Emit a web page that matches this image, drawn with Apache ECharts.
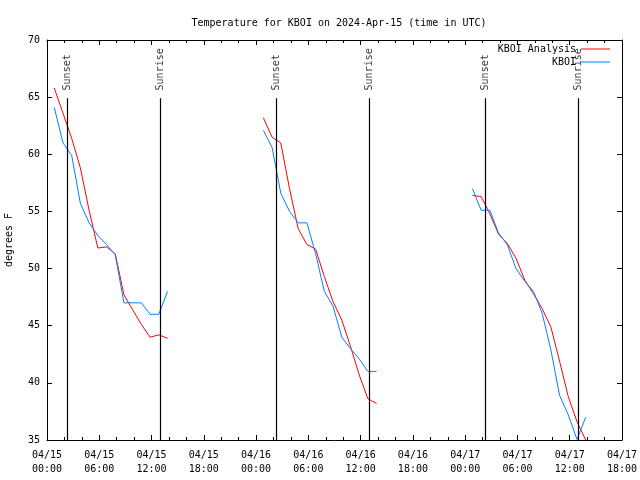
<!DOCTYPE html>
<html><head><meta charset="utf-8">
<script src="https://cdn.jsdelivr.net/npm/echarts@6/dist/echarts.min.js"></script>
<style>html,body{margin:0;padding:0;background:#fff}#c{width:640px;height:480px}</style>
</head><body><div id="c"></div>
<script>
// ---- data ----
const days = ['2024-04-15', '2024-04-16', '2024-04-17'];
const obsTimes = ['00:50','01:50','02:50','03:50','04:50','05:50','06:50','07:50','08:50','09:50','10:50','11:50','12:50','13:50'];
const analysisDay1 = [65.8, 63.6, 61.4, 58.8, 55.1, 51.8, 51.9, 51.3, 47.7, 46.4, 45.1, 44.0, 44.2, 43.9];
const analysisDay2 = [63.2, 61.5, 61.0, 57.0, 53.5, 52.1, 51.7, 49.3, 47.1, 45.5, 43.2, 40.7, 38.6, 38.2];
const analysisDay3 = [56.4, 56.3, 54.8, 53.0, 52.2, 50.9, 49.0, 47.8, 46.5, 44.9, 41.9, 38.8, 36.6, 35.0];
const obsDay1 = [64.1, 61.0, 59.9, 55.7, 54.0, 52.9, 52.1, 51.2, 47.0, 47.0, 47.0, 46.0, 46.0, 48.0];
const obsDay2 = [62.1, 60.6, 56.6, 55.0, 54.0, 54.0, 51.3, 48.0, 46.7, 44.0, 43.0, 42.1, 41.0, 41.0];
const obsDay3 = [57.0, 55.1, 55.1, 53.1, 52.1, 50.0, 48.9, 48.0, 46.1, 42.9, 38.9, 37.2, 35.05, 37.0];
const eventTimes = ['2024-04-15T02:21Z','2024-04-15T13:01Z','2024-04-16T02:21Z','2024-04-16T13:01Z','2024-04-17T02:21Z','2024-04-17T13:01Z'];
const eventNames = ['Sunset','Sunrise','Sunset','Sunrise','Sunset','Sunrise'];
const titleText = 'Temperature for KBOI on 2024-Apr-15 (time in UTC)';
const seriesNames = ['KBOI Analysis', 'KBOI'];
const yName = 'degrees F';

// ---- build ----
const HOUR = 3600000;
const xMin = Date.UTC(2024, 3, 15, 0, 0);
const xMax = Date.UTC(2024, 3, 17, 18, 0);
function ts(day, hm) { return Date.parse(day + 'T' + hm + ':00Z'); }
function build(dayVals) {
  const out = [];
  dayVals.forEach((vals, d) => {
    vals.forEach((v, i) => out.push([ts(days[d], obsTimes[i]), v]));
    out.push([ts(days[d], obsTimes[obsTimes.length - 1]) + HOUR, '-']);
  });
  return out;
}
const analysisData = build([analysisDay1, analysisDay2, analysisDay3]);
const obsData = build([obsDay1, obsDay2, obsDay3]);
const eventX = eventTimes.map(t => Date.parse(t));

const FONT = 'DejaVu Sans Mono';
const pad = n => (n < 10 ? '0' : '') + n;
const fmtX = v => { const d = new Date(v); return pad(d.getUTCMonth() + 1) + '/' + pad(d.getUTCDate()) + '\n' + pad(d.getUTCHours()) + ':' + pad(d.getUTCMinutes()); };

const axisLine = { show: true, lineStyle: { color: '#000', width: 1 } };
const xCommon = {
  type: 'value', min: xMin, max: xMax, interval: 6 * HOUR,
  axisLine: axisLine, splitLine: { show: false },
  axisTick: { show: true, inside: true, length: 5, lineStyle: { color: '#000' } },
  minorTick: { show: true, splitNumber: 3, length: 3, lineStyle: { color: '#000' } }
};
const yCommon = {
  type: 'value', min: 35, max: 70, interval: 5,
  axisLine: axisLine, splitLine: { show: false },
  axisTick: { show: true, inside: true, length: 5, lineStyle: { color: '#000' } }
};

const chart = echarts.init(document.getElementById('c'), null, { renderer: 'canvas' });
const legendBase = {
  orient: 'vertical', align: 'right', right: 30, padding: 0, icon: 'rect',
  itemWidth: 29, itemHeight: 1, itemGap: 0, selectedMode: false,
  textStyle: { fontFamily: FONT, fontSize: 10, color: '#000' }
};
chart.setOption({
  animation: false,
  backgroundColor: '#fff',
  title: { text: titleText, left: 334, textAlign: 'center', top: 13,
    textStyle: { fontFamily: FONT, fontSize: 10, fontWeight: 'normal', color: '#000' } },
  legend: [
    Object.assign({}, legendBase, { data: [seriesNames[0]], top: 44 }),
    Object.assign({}, legendBase, { data: [seriesNames[1]], top: 57 })
  ],
  grid: { left: 47, right: 18, top: 40, bottom: 40, containLabel: false, outerBoundsMode: 'none' },
  xAxis: [
    Object.assign({}, xCommon, { position: 'bottom',
      axisLabel: { show: true, formatter: fmtX, fontFamily: FONT, fontSize: 10, color: '#000', margin: 8, lineHeight: 14 } }),
    Object.assign({}, xCommon, { position: 'top', axisLabel: { show: false } })
  ],
  yAxis: [
    Object.assign({}, yCommon, { position: 'left', name: yName, nameLocation: 'middle', nameGap: 33, nameRotate: 90,
      nameTextStyle: { fontFamily: FONT, fontSize: 10, color: '#000' },
      axisLabel: { show: true, fontFamily: FONT, fontSize: 10, color: '#000', margin: 7 } }),
    Object.assign({}, yCommon, { position: 'right', axisLabel: { show: false } })
  ],
  series: [
    { name: seriesNames[0], type: 'line', data: analysisData, showSymbol: false, symbol: 'none',
      lineStyle: { color: '#ff0000', width: 1 }, itemStyle: { color: '#ff0000' }, connectNulls: false, z: 3 },
    { name: seriesNames[1], type: 'line', data: obsData, showSymbol: false, symbol: 'none',
      lineStyle: { color: '#0080ff', width: 1 }, itemStyle: { color: '#0080ff' }, connectNulls: false, z: 4 },
    { name: 'sun', type: 'scatter', symbolSize: 0, silent: true, z: 2,
      data: eventX.map((x, i) => ({ value: [x, 65.5], name: eventNames[i] })),
      label: { show: true, position: 'inside', rotate: 90, align: 'left', verticalAlign: 'middle', offset: [1, 0],
        formatter: p => p.name, fontFamily: FONT, fontSize: 10, color: '#000' },
      markLine: { silent: true, symbol: ['none', 'none'], label: { show: false },
        lineStyle: { color: '#000', width: 1.2, type: 'solid' },
        data: eventX.map(x => [{ coord: [x, 35] }, { coord: [x, 64.9] }]) } }
  ]
});
</script></body></html>
